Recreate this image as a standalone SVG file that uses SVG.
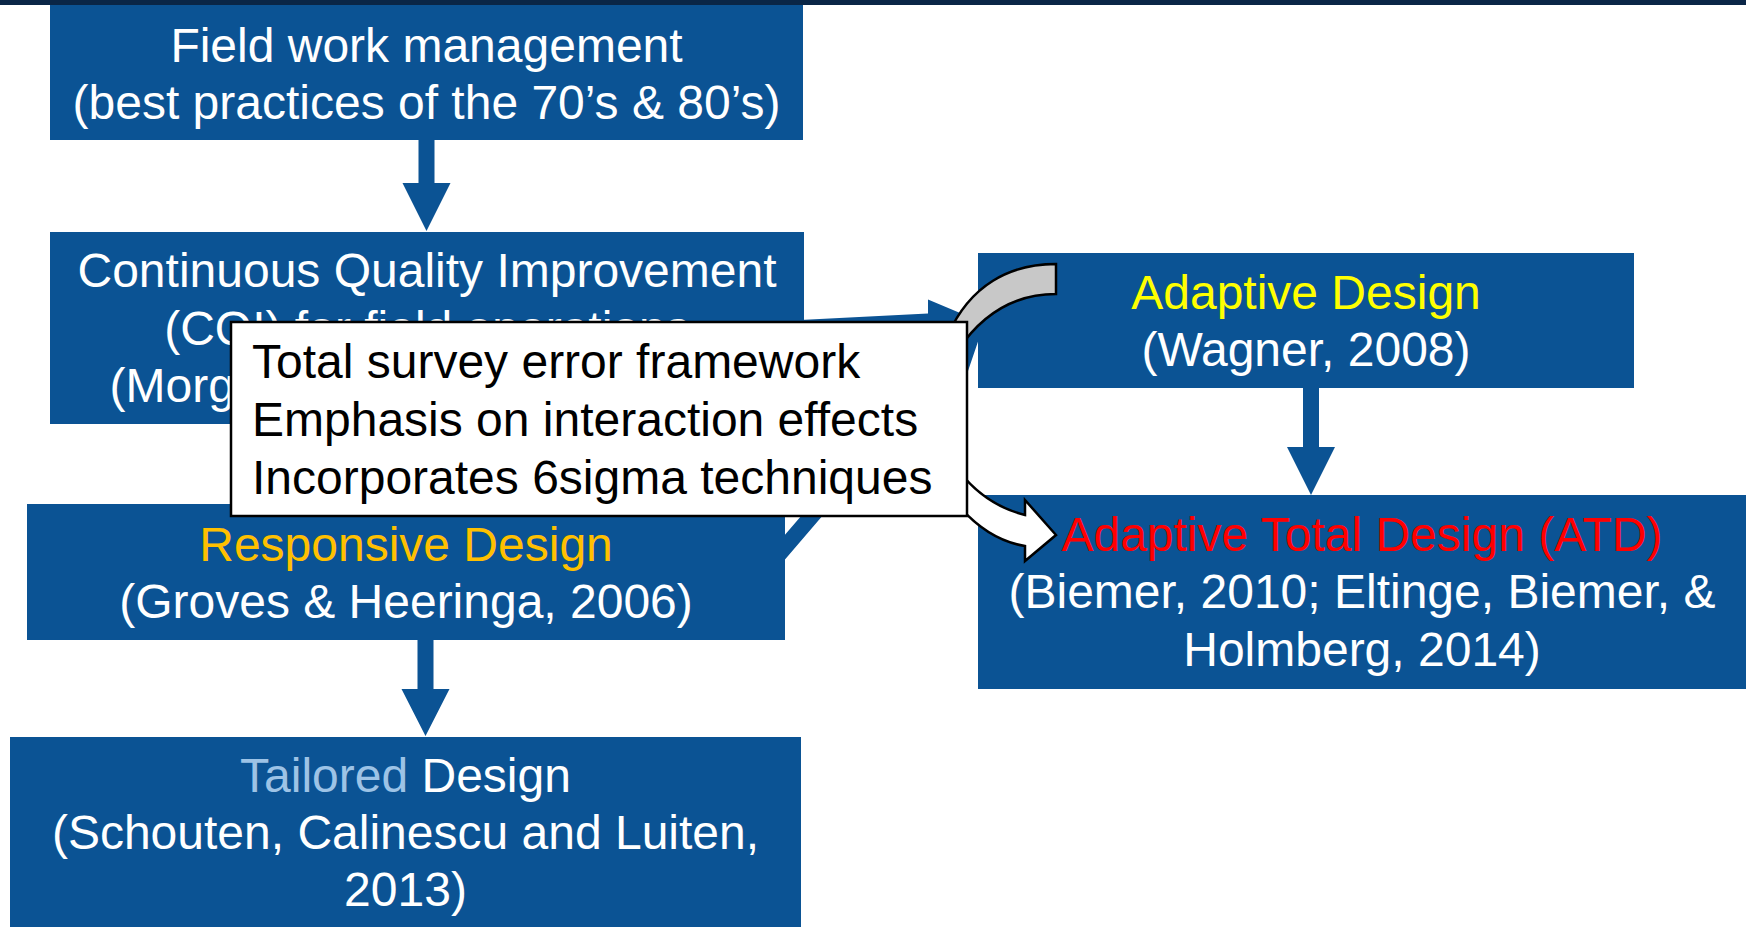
<svg xmlns="http://www.w3.org/2000/svg" width="1746" height="927" viewBox="0 0 1746 927">
<style>
.box{fill:#0b5394}
.arr{fill:#0b5394}
.t{font-family:"Liberation Sans",Arial,sans-serif;font-size:48px;fill:#ffffff;text-anchor:middle}
.c{font-family:"Liberation Sans",Arial,sans-serif;font-size:48px;fill:#000000}
</style>
<rect x="0" y="0" width="1746" height="927" fill="#ffffff"/>
<rect x="0" y="0" width="1746" height="5" fill="#0a2647"/>
<g id="connectors">
<polygon class="arr" points="418.5,139 434.5,139 434.5,183 450.5,183 426.5,231 402.5,183 418.5,183"/>
<polygon class="arr" points="417.5,639 433.5,639 433.5,689 449.5,689 425.5,736 401.5,689 417.5,689"/>
<polygon class="arr" points="1303,387 1319,387 1319,447 1335,447 1311,495 1287,447 1303,447"/>
<polygon class="arr" points="800,320 928,313.4 928,299.4 972,318 930,339.4 929,325.4 800,332"/>
<polygon class="arr" points="770,576.9 949.5,367.7 964.7,380.7 989,309.3 922.1,344.3 937.3,357.3 757.8,566.5"/>
</g>
<g id="node-fieldwork">
<rect class="box" x="50" y="5" width="753" height="135"/>
<text class="t" x="426.5" y="62">Field work management</text>
<text class="t" x="426.5" y="119">(best practices of the 70’s &amp; 80’s)</text>
</g>
<g id="node-cqi">
<rect class="box" x="50" y="232" width="754" height="192"/>
<text class="t" x="427" y="287">Continuous Quality Improvement</text>
<text class="t" x="427" y="345">(CQI) for field operations</text>
<text class="t" x="427" y="402">(Morganstein &amp; Marker, 1997)</text>
</g>
<g id="node-responsive">
<rect class="box" x="27" y="504" width="758" height="136"/>
<text class="t" x="406" y="561"><tspan fill="#ffc000">Responsive Design</tspan></text>
<text class="t" x="406" y="618">(Groves &amp; Heeringa, 2006)</text>
</g>
<g id="node-tailored">
<rect class="box" x="10" y="737" width="791" height="190"/>
<text class="t" x="405.5" y="792"><tspan fill="#9dc3e6">Tailored</tspan> Design</text>
<text class="t" x="405.5" y="849">(Schouten, Calinescu and Luiten,</text>
<text class="t" x="405.5" y="906">2013)</text>
</g>
<g id="node-adaptive">
<rect class="box" x="978" y="253" width="656" height="135"/>
<text class="t" x="1306" y="309"><tspan fill="#ffff00">Adaptive Design</tspan></text>
<text class="t" x="1306" y="366">(Wagner, 2008)</text>
</g>
<g id="node-atd">
<rect class="box" x="978" y="495" width="768" height="194"/>
<text class="t" x="1362" y="551"><tspan fill="#ff0000">Adaptive Total Design (ATD)</tspan></text>
<text class="t" x="1362" y="608">(Biemer, 2010; Eltinge, Biemer, &amp;</text>
<text class="t" x="1362" y="666">Holmberg, 2014)</text>
</g>
<g id="callout-arrows">
<path d="M1056,264 C1010,264 970,285 948,335 L958,350 C985,310 1020,294 1056,294 Z" fill="#c8c8c8" stroke="#000000" stroke-width="2.5" stroke-linejoin="miter"/>
<path d="M958,470 Q985,505 1025,515 L1025,500 L1056,535 L1025,561 L1025,546 Q988,540 958,505 Z" fill="#ffffff" stroke="#000000" stroke-width="2.5"/>
</g>
<g id="node-callout">
<rect x="231" y="322" width="736" height="194" fill="#ffffff" stroke="#000000" stroke-width="2.5"/>
<text class="c" x="252" y="378">Total survey error framework</text>
<text class="c" x="252" y="436">Emphasis on interaction effects</text>
<text class="c" x="252" y="494">Incorporates 6sigma techniques</text>
</g>
</svg>
